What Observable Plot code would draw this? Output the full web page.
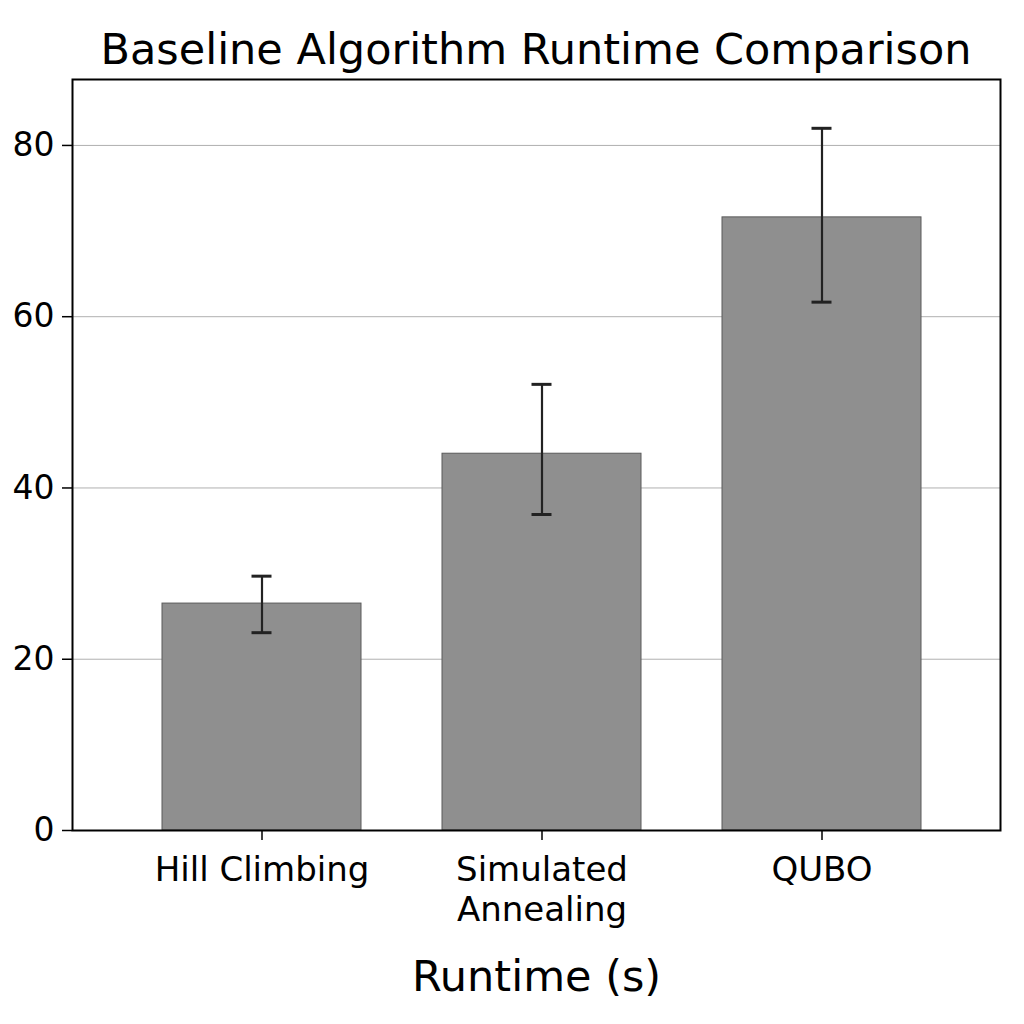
<!DOCTYPE html>
<html>
<head>
<meta charset="utf-8">
<script src="https://cdn.jsdelivr.net/npm/d3@7"></script>
<script src="https://cdn.jsdelivr.net/npm/@observablehq/plot@0.6"></script>
<style>
  html, body { margin: 0; padding: 0; background: #fff; }
  body { width: 1024px; height: 1024px; overflow: hidden; font-family: "DejaVu Sans", sans-serif; }
  #title { height: 53px; padding-top: 25px; font-size: 43px; line-height: 49px; text-align: center; padding-left: 48px; color: #000; white-space: nowrap; }
</style>
</head>
<body>
<div id="title">Baseline Algorithm Runtime Comparison</div>
<div id="chart"></div>
<script>
const algorithms = ["Hill Climbing", "Simulated Annealing", "QUBO"];
const meanRuntime = [26.5, 44.0, 71.6];
const errLow = [23.1, 36.9, 61.7];
const errHigh = [29.7, 52.1, 82.0];
const yTicks = [0, 20, 40, 60, 80];
const xAxisLabel = "Runtime (s)";
const tickLabels = {"Hill Climbing": "Hill Climbing", "Simulated Annealing": "Simulated\nAnnealing", "QUBO": "QUBO"};

const data = algorithms.map((a, i) => ({algo: a, mean: meanRuntime[i], lo: errLow[i], hi: errHigh[i]}));

const chart = Plot.plot({
  width: 1024,
  height: 946,
  marginTop: 1,
  marginLeft: 72,
  marginRight: 24,
  marginBottom: 194,
  style: {fontFamily: "DejaVu Sans, sans-serif", color: "#000", background: "#fff"},
  x: {domain: algorithms, paddingInner: 0.29, paddingOuter: 0.3006, align: 0.534, label: null},
  y: {domain: [0, 87.7], label: null},
  marks: [
    Plot.gridY(yTicks, {stroke: "#b0b0b0", strokeOpacity: 1, strokeWidth: 1}),
    Plot.barY(data, {x: "algo", y: "mean", fill: "#8f8f8f", stroke: "#5a5a5a", strokeWidth: 1}),
    Plot.ruleX(data, {x: "algo", y1: "lo", y2: "hi", stroke: "#222", strokeWidth: 2.2}),
    Plot.tickY(data, {x: "algo", y: "lo", stroke: "#222", strokeWidth: 3, insetLeft: 89.5, insetRight: 89.5}),
    Plot.tickY(data, {x: "algo", y: "hi", stroke: "#222", strokeWidth: 3, insetLeft: 89.5, insetRight: 89.5}),
    Plot.axisY({ticks: yTicks, tickSize: 10, tickPadding: 8, fontSize: 33, label: null, stroke: "#000", strokeWidth: 1.5, tickFormat: d => String(d)}),
    Plot.axisX({tickSize: 10, tickPadding: 12, fontSize: 34, lineHeight: 1.18, label: null, stroke: "#000", strokeWidth: 1.5, tickFormat: d => tickLabels[d]}),
    Plot.text([xAxisLabel], {frameAnchor: "bottom", dy: 160, lineAnchor: "bottom", fontSize: 43, text: d => d, fill: "#000"}),
    Plot.frame({stroke: "#000", strokeWidth: 2})
  ]
});
document.getElementById("chart").appendChild(chart);
</script>
</body>
</html>
